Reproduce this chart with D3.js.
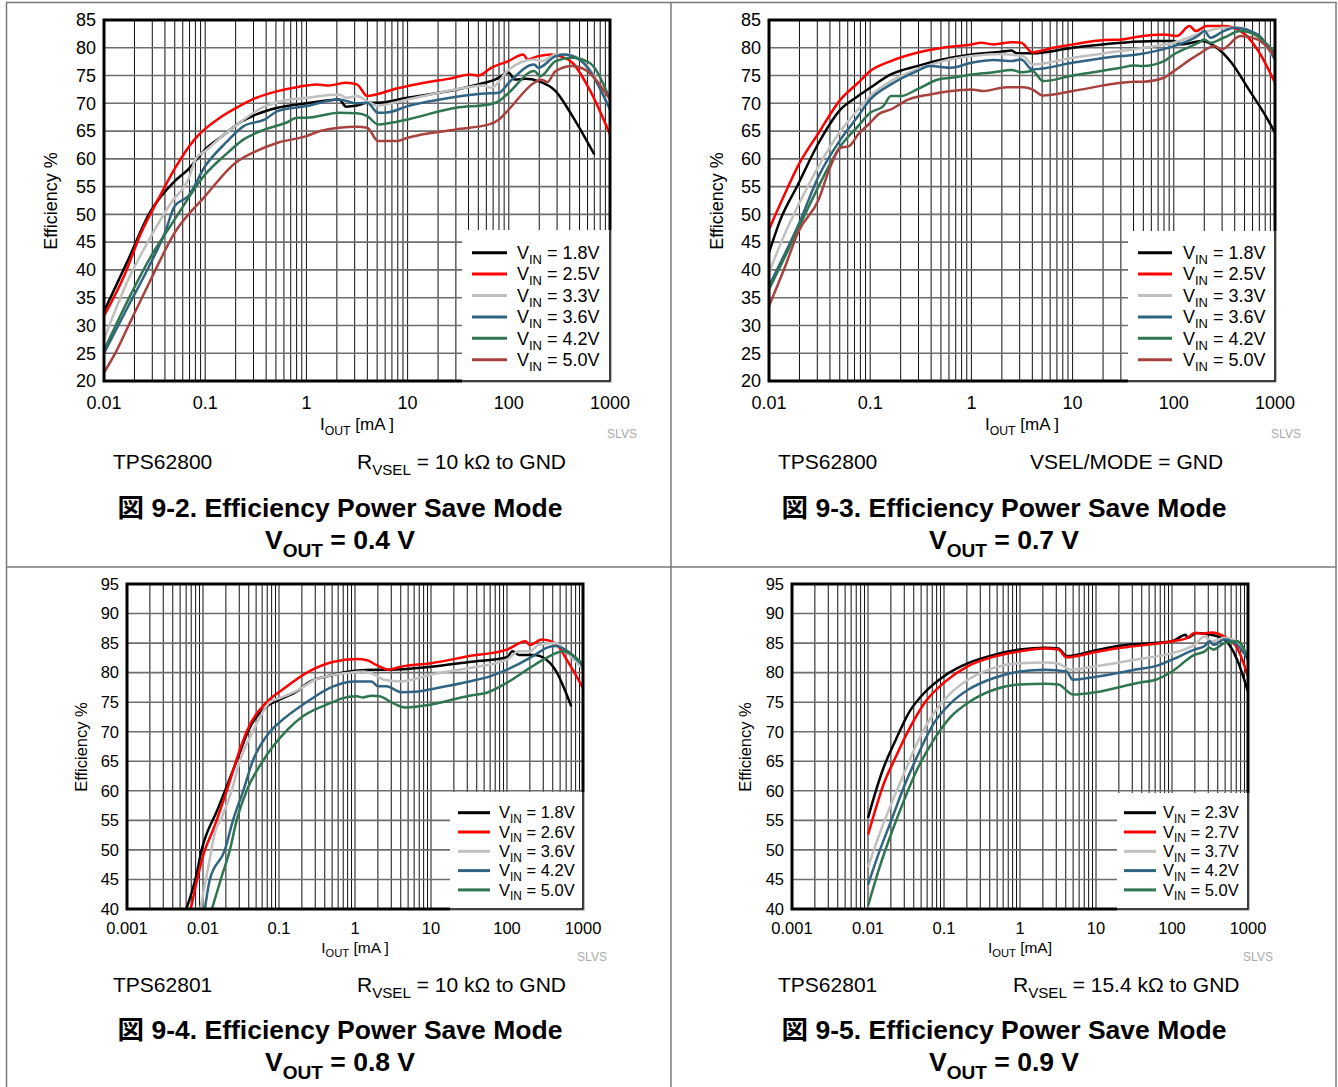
<!DOCTYPE html>
<html><head><meta charset="utf-8">
<script src="https://cdn.jsdelivr.net/npm/d3@7"></script>
<style>
body{margin:0;background:#fff}
svg{display:block}
text{font-family:"Liberation Sans",Arial,"Noto Sans CJK JP",sans-serif;fill:#000}
</style>
</head><body>
<svg id="c" width="1338" height="1087"></svg>
<script>
// ---------------- DATA ----------------
const seriesColors6 = ["#000000","#ff0000","#c0c0c0","#2f6482","#2e7550","#a8423f"];
const seriesColors5 = ["#000000","#ff0000","#c0c0c0","#2f6482","#2e7550"];

// Fig 9-2 (VOUT 0.4 V)
const fig2Labels = ["1.8V","2.5V","3.3V","3.6V","4.2V","5.0V"];
const fig2_v18 = [[0.01,32.5],[0.0174,41.9],[0.0283,50.3],[0.05,56.0],[0.068,58.1],[0.1,61.7],[0.148,64.1],[0.218,66.5],[0.32,68.0],[0.52,69.2],[1,70.0],[2.1,70.7],[2.47,69.4],[3.15,69.6],[4,70.1],[5.1,70.1],[10,71.0],[30.7,72.5],[55,73.6],[74,74.3],[100,75.5],[114,74.3],[146,74.4],[196,74.0],[290,72.2],[425,67.7],[700,60.8]];
const fig2_v25 = [[0.01,31.7],[0.0158,38.9],[0.0233,46.7],[0.0343,52.7],[0.0507,58.4],[0.0785,63.5],[0.148,67.7],[0.218,69.5],[0.321,71.0],[0.521,72.2],[0.847,73.0],[1.25,73.4],[1.67,73.2],[2.47,73.7],[3.15,73.4],[4.01,71.3],[4.87,71.6],[7.19,72.5],[10.6,73.2],[15.6,73.8],[25.4,74.4],[41.3,75.2],[50.1,75.0],[67.1,76.4],[99,77.6],[139,78.8],[153,77.9],[196,78.5],[262,78.8],[318,78.5],[425,77.3],[627,72.5],[1000,64.4]];
const fig2_v33 = [[0.01,27.5],[0.0174,38.3],[0.028,45.5],[0.046,52.1],[0.068,56.3],[0.082,60.2],[0.1,61.4],[0.148,64.1],[0.218,66.5],[0.39,69.5],[0.57,70.4],[1,71.0],[2.1,71.6],[2.47,71.0],[3.15,71.3],[4,70.4],[5.1,69.6],[10,70.7],[30,72.5],[55,73.2],[67,72.8],[100,76.1],[178,77.9],[214,77.6],[290,78.8],[380,78.8],[560,77.3],[1000,68.9]];
const fig2_v36 = [[0.01,25],[0.0174,33.5],[0.028,40.7],[0.04,46.7],[0.05,51.5],[0.068,53.3],[0.1,58.7],[0.16,62.9],[0.24,65.9],[0.39,67.1],[0.52,68.6],[1,69.5],[2.1,70.7],[3.15,70.0],[4,70.1],[5.1,68.3],[6.5,68.4],[10,69.5],[21,70.7],[41,71.5],[64,71.8],[80,71.9],[100,73.7],[178,77.0],[196,76.4],[290,78.5],[350,78.8],[520,77.6],[1000,68.9]];
const fig2_v42 = [[0.01,25.5],[0.0174,34.7],[0.028,41.9],[0.05,49.1],[0.1,57.2],[0.16,60.8],[0.24,63.5],[0.39,65.3],[0.63,66.5],[0.81,67.4],[1,67.4],[2.1,68.3],[3.15,68.2],[4,67.7],[5.1,66.2],[6.5,66.4],[10,67.1],[30,69.2],[64,69.8],[80,70.4],[100,71.9],[178,75.8],[205,74.9],[290,77.6],[425,78.2],[627,77.3],[1000,70.7]];
const fig2_v50 = [[0.01,21.5],[0.013,25.1],[0.0174,29.9],[0.028,37.7],[0.05,46.7],[0.1,53.3],[0.2,59.3],[0.32,61.4],[0.52,62.9],[1,64.1],[1.37,65.0],[2.1,65.6],[3.15,65.8],[4,65.6],[5.1,63.2],[7.9,63.2],[10,63.8],[30,65.3],[64,66.2],[80,67.1],[100,68.9],[178,73.7],[210,74.3],[240,73.8],[290,75.8],[425,76.7],[560,76.1],[1000,70.7]];

// Fig 9-3 (VOUT 0.7 V)
const fig3Labels = ["1.8V","2.5V","3.3V","3.6V","4.2V","5.0V"];
const fig3_v18 = [[0.01,43.1],[0.013,49.1],[0.019,55.1],[0.031,62.9],[0.051,68.9],[0.076,71.3],[0.1,72.8],[0.16,75.2],[0.29,76.7],[0.52,77.9],[1,78.8],[1.97,79.3],[2.5,79.5],[2.8,79.0],[4,79.0],[10,80.0],[30.3,80.9],[66,81.2],[100,81.2],[118,80.6],[190,81.2],[253,80.3],[372,77.3],[550,72.5],[810,67.7],[1000,64.7]];
const fig3_v25 = [[0.01,47.3],[0.0145,53.9],[0.0193,58.7],[0.031,64.7],[0.051,70.7],[0.076,73.7],[0.1,75.8],[0.16,77.6],[0.29,79.1],[0.52,80.0],[1,80.6],[1.25,80.9],[1.67,80.6],[2.5,81.0],[3.1,80.9],[4,79.2],[6.4,80.0],[10,80.6],[20.6,81.4],[30.3,81.5],[44,82.0],[80,82.4],[107,82.1],[143,83.9],[165,83.0],[210,83.9],[310,83.9],[457,83.0],[670,79.7],[1000,73.7]];
const fig3_v33 = [[0.01,39.5],[0.0145,46.7],[0.0193,51.5],[0.031,58.7],[0.051,65.0],[0.076,68.9],[0.1,71.3],[0.16,74.0],[0.29,76.1],[0.52,77.6],[1,78.5],[1.97,78.9],[3.3,78.4],[4,77.0],[10,78.2],[30,79.4],[66,80.3],[100,80.9],[190,82.7],[310,83.6],[457,83.6],[670,82.1],[1000,77.9]];
const fig3_v36 = [[0.01,37.1],[0.0145,43.1],[0.0193,47.9],[0.031,56.9],[0.051,63.5],[0.076,67.7],[0.1,70.7],[0.16,73.4],[0.29,75.8],[0.39,76.7],[0.63,76.4],[1,77.3],[1.67,77.8],[2.5,77.6],[3.1,77.9],[4,76.1],[10,77.3],[30,78.5],[40,78.7],[66,79.4],[100,80.3],[175,82.2],[200,83.0],[230,81.8],[310,83.0],[400,83.6],[670,82.4],[1000,77.9]];
const fig3_v42 = [[0.01,36.5],[0.0145,42.5],[0.0193,47.3],[0.031,55.1],[0.051,62.3],[0.076,65.9],[0.1,68.3],[0.135,69.5],[0.16,71.3],[0.2,71.3],[0.29,72.5],[0.47,74.3],[0.63,74.6],[1,75.2],[1.67,75.6],[2.5,76.0],[3.1,75.6],[4,75.8],[5.1,74.0],[10,75.0],[30,76.4],[40,76.8],[49,76.7],[80,77.6],[100,78.8],[175,80.9],[200,81.5],[230,80.9],[310,81.8],[457,83.0],[670,82.1],[1000,79.1]];
const fig3_v50 = [[0.01,33.5],[0.0145,40.7],[0.0193,46.7],[0.031,52.7],[0.04,58.4],[0.051,62.0],[0.062,62.3],[0.076,64.4],[0.1,66.5],[0.12,68.0],[0.16,68.9],[0.24,70.7],[0.39,71.6],[0.63,72.2],[1,72.5],[1.31,72.2],[2.23,72.9],[3.3,72.9],[4,72.5],[5.1,71.4],[10,72.2],[30,73.7],[40,73.9],[49,73.9],[80,74.6],[100,75.8],[175,78.8],[253,80.3],[295,79.7],[457,82.1],[670,81.5],[1000,78.5]];

// Fig 9-4 (VOUT 0.8 V)
const fig4Labels = ["1.8V","2.6V","3.6V","4.2V","5.0V"];
const fig4_v18 = [[0.00604,40],[0.0081,45.5],[0.0096,50],[0.0155,56.8],[0.0195,60],[0.0316,67.0],[0.0389,70],[0.073,74.5],[0.108,75.6],[0.18,77.0],[0.235,78.2],[0.51,79.6],[1,80.3],[1.9,80.5],[2.76,80.5],[10,81.0],[32,81.8],[100,82.6],[118,83.6],[143,83.0],[224,83.0],[330,82.2],[430,80.5],[700,74.3]];
const fig4_v26 = [[0.0069,40],[0.0092,47.2],[0.0106,50],[0.0136,53.4],[0.0205,60],[0.0316,67.5],[0.0375,70],[0.069,75],[0.108,77.0],[0.256,80.3],[0.51,81.8],[1.05,82.3],[1.45,82.1],[1.9,81.3],[2.76,80.5],[4,81.0],[10,81.6],[32,82.8],[100,83.9],[175,85.3],[200,84.7],[290,85.6],[430,85.0],[630,81.9],[1000,77.4]];
const fig4_v36 = [[0.0092,40],[0.012,47.8],[0.0144,53],[0.0176,55.5],[0.0238,60],[0.0305,65],[0.045,70],[0.076,75],[0.108,75.8],[0.18,77.1],[0.3,78.8],[0.86,80],[1.3,80.2],[1.65,79.9],[2.4,78.8],[4,78.5],[10,79.7],[32,80.8],[100,82.2],[143,83.6],[200,83.6],[260,84.7],[430,85.0],[630,83.3],[1000,80.5]];
const fig4_v42 = [[0.0106,40],[0.0123,45],[0.0194,50],[0.0248,55],[0.0338,60],[0.045,65],[0.076,70],[0.1,71.5],[0.23,75],[0.5,77.6],[1,78.5],[1.65,78.5],[2.0,77.7],[2.6,77.7],[4,76.7],[6.8,76.8],[10,77.2],[32,78.5],[61,79.4],[100,80.5],[200,82.5],[276,83.6],[330,84.2],[430,84.5],[630,83.6],[1000,81.1]];
const fig4_v50 = [[0.0131,40],[0.0176,45.5],[0.0226,50],[0.0277,55],[0.0375,60],[0.061,65],[0.083,67.5],[0.126,70.2],[0.206,72.6],[0.51,75],[0.66,75.6],[1.05,76],[1.27,75.8],[1.65,76.1],[2.1,76.0],[3.1,74.9],[4.6,74.1],[10,74.6],[32,76.1],[54,76.6],[100,78.3],[200,80.8],[330,82.5],[550,83.6],[720,83.0],[1000,81.4]];

// Fig 9-5 (VOUT 0.9 V)
const fig5Labels = ["2.3V","2.7V","3.7V","4.2V","5.0V"];
const fig5_v23 = [[0.01,55.4],[0.0121,59.1],[0.0157,63.6],[0.0233,68.7],[0.0344,73.2],[0.0572,76.8],[0.1,79.4],[0.207,81.6],[0.453,83.0],[1,83.9],[2.15,84.2],[3.2,84.1],[4.1,82.8],[10,83.8],[21.6,84.6],[100,85.3],[151,86.4],[160,85.9],[210,86.7],[330,86.4],[490,85.6],[720,82.2],[1000,76.8]];
const fig5_v27 = [[0.01,52.6],[0.0121,56.2],[0.0157,60.8],[0.0233,65.8],[0.0344,70.3],[0.0572,75.1],[0.1,78.3],[0.207,81.1],[0.453,82.7],[1,83.6],[2.15,84.1],[3.2,83.9],[4.1,82.6],[10,83.5],[21.6,84.2],[100,85.3],[160,85.9],[197,86.7],[254,86.6],[330,86.8],[490,86.1],[720,84.2],[1000,79.4]];
const fig5_v37 = [[0.01,47.1],[0.0139,52.4],[0.0204,57.9],[0.03,63.0],[0.0443,68.1],[0.074,73.2],[0.124,76.6],[0.207,78.8],[0.453,80.8],[1,81.6],[2.15,81.7],[3.2,81.5],[4.7,80.5],[10,81.1],[36.6,82.3],[100,83.3],[197,84.7],[270,86.1],[330,85.3],[490,85.9],[720,85.3],[1000,82.2]];
const fig5_v42 = [[0.01,44.1],[0.0139,49.5],[0.0204,55.1],[0.03,60.8],[0.0443,65.8],[0.074,71.5],[0.124,74.9],[0.207,77.1],[0.453,79.1],[1,80.2],[2.15,80.5],[4.1,80.2],[4.94,78.8],[10,79.3],[36.6,80.6],[61,81.1],[100,82.2],[197,83.9],[270,84.5],[310,85.3],[350,84.7],[490,85.6],[720,84.7],[1000,82.2]];
const fig5_v50 = [[0.01,40.5],[0.0139,46.7],[0.0204,52.9],[0.03,58.5],[0.0443,63.6],[0.074,68.7],[0.124,72.6],[0.207,74.9],[0.453,77.1],[1,78.0],[2.15,78.1],[3.2,78.0],[4.94,76.3],[10,76.7],[36.6,78.3],[61,78.8],[100,80.2],[197,83.0],[270,83.6],[310,84.2],[350,83.9],[490,85.0],[720,85.3],[1000,82.5]];

// tick labels
const xTicksTop = [0.01,0.1,1,10,100,1000];
const xTickLabelsTop = ["0.01","0.1","1","10","100","1000"];
const xTicksBot = [0.001,0.01,0.1,1,10,100,1000];
const xTickLabelsBot = ["0.001","0.01","0.1","1","10","100","1000"];
const yTicksTop = [20,25,30,35,40,45,50,55,60,65,70,75,80,85];
const yTicksBot = [40,45,50,55,60,65,70,75,80,85,90,95];

// captions
const captions = [
  {dev:"TPS62800", cond:[["R"],["VSEL",1],[" = 10 kΩ to GND"]], fig:"図 9-2. Efficiency Power Save Mode", vout:"0.4 V"},
  {dev:"TPS62800", cond:[["VSEL/MODE = GND"]], fig:"図 9-3. Efficiency Power Save Mode", vout:"0.7 V"},
  {dev:"TPS62801", cond:[["R"],["VSEL",1],[" = 10 kΩ to GND"]], fig:"図 9-4. Efficiency Power Save Mode", vout:"0.8 V"},
  {dev:"TPS62801", cond:[["R"],["VSEL",1],[" = 15.4 kΩ to GND"]], fig:"図 9-5. Efficiency Power Save Mode", vout:"0.9 V"}
];

// ---------------- LAYOUT ----------------
const panels = [
  {x0:104,x1:610,y0:20,y1:381,xd:[0.01,1000],yd:[20,85],xt:xTicksTop,xl:xTickLabelsTop,yt:yTicksTop,
   series:[fig2_v18,fig2_v25,fig2_v33,fig2_v36,fig2_v42,fig2_v50],labels:fig2Labels,colors:seriesColors6,
   lg:{x:462,y:230,r0:252.7,rh:21.4,l0:472,l1:507,tx:517,fs:18},fs:18,xlY:403,xtitleX:357,xtitleY:425,xtitle:"[mA ]",
   ytx:51,yty:201,slvs:[622,434],cap:{dx:113,cx:357,cy:462,tx:340,t1:508,t2:540},c:captions[0]},
  {x0:769,x1:1275,y0:20,y1:381,xd:[0.01,1000],yd:[20,85],xt:xTicksTop,xl:xTickLabelsTop,yt:yTicksTop,
   series:[fig3_v18,fig3_v25,fig3_v33,fig3_v36,fig3_v42,fig3_v50],labels:fig3Labels,colors:seriesColors6,
   lg:{x:1128,y:231,r0:252.7,rh:21.4,l0:1138,l1:1172,tx:1183,fs:18},fs:18,xlY:403,xtitleX:1022,xtitleY:425,xtitle:"[mA ]",
   ytx:717,yty:201,slvs:[1286,434],cap:{dx:778,cx:1030,cy:462,tx:1004,t1:508,t2:540},c:captions[1]},
  {x0:127,x1:583,y0:584,y1:909,xd:[0.001,1000],yd:[40,95],xt:xTicksBot,xl:xTickLabelsBot,yt:yTicksBot,
   series:[fig4_v18,fig4_v26,fig4_v36,fig4_v42,fig4_v50],labels:fig4Labels,colors:seriesColors5,
   lg:{x:450,y:792,r0:812.7,rh:19.3,l0:458,l1:490,tx:499,fs:16.5},fs:16.5,xlY:928,xtitleX:355,xtitleY:948,xtitle:"[mA ]",
   ytx:81,yty:747,slvs:[592,957],cap:{dx:113,cx:357,cy:985,tx:340,t1:1030,t2:1062},c:captions[2]},
  {x0:792,x1:1248,y0:584,y1:909,xd:[0.001,1000],yd:[40,95],xt:xTicksBot,xl:xTickLabelsBot,yt:yTicksBot,
   series:[fig5_v23,fig5_v27,fig5_v37,fig5_v42,fig5_v50],labels:fig5Labels,colors:seriesColors5,
   lg:{x:1117,y:793,r0:812.7,rh:19.3,l0:1124,l1:1156,tx:1163,fs:16.5},fs:16.5,xlY:928,xtitleX:1020,xtitleY:948,xtitle:"[mA]",
   ytx:745,yty:747,slvs:[1258,957],cap:{dx:778,cx:1013,cy:985,tx:1004,t1:1030,t2:1062},c:captions[3]}
];

const svg = d3.select("#c");
svg.append("rect").attr("width",1338).attr("height",1087).attr("fill","#fff");

// outer frame & dividers
const fr = svg.append("g").attr("stroke","#7a7a7a").attr("stroke-width",1.5).attr("fill","none");
fr.append("line").attr("x1",6.5).attr("x2",6.5).attr("y1",2).attr("y2",1087);
fr.append("line").attr("x1",1336).attr("x2",1336).attr("y1",2).attr("y2",1087);
fr.append("line").attr("x1",6).attr("x2",1336.5).attr("y1",2.5).attr("y2",2.5);
fr.append("line").attr("x1",671).attr("x2",671).attr("y1",2).attr("y2",1087);
fr.append("line").attr("x1",6).attr("x2",1336.5).attr("y1",567).attr("y2",567);

function subText(g, x, y, parts, fs, anchor, weight){
  const t = g.append("text").attr("x",x).attr("y",y).attr("font-size",fs)
    .attr("text-anchor",anchor||"start").attr("font-weight",weight||"normal");
  let shifted = false;
  parts.forEach(p=>{
    const ts = t.append("tspan").text(p[0]);
    if(p[1]){ ts.attr("font-size",fs*0.72).attr("dy",fs*0.28); shifted = true; }
    else if(shifted){ ts.attr("dy",-fs*0.28); shifted=false; }
  });
  return t;
}

panels.forEach((P,pi)=>{
  const g = svg.append("g");
  const x = d3.scaleLog().domain(P.xd).range([P.x0,P.x1]);
  const y = d3.scaleLinear().domain(P.yd).range([P.y1,P.y0]);

  // vertical grid (1..9 per decade)
  const vt = [];
  for(let e=Math.log10(P.xd[0]); e<Math.log10(P.xd[1]); e++){
    for(let k=1;k<=9;k++) vt.push(k*Math.pow(10,e));
  }
  g.append("g").selectAll("line").data(vt).join("line")
    .attr("x1",d=>x(d)).attr("x2",d=>x(d)).attr("y1",P.y0).attr("y2",P.y1)
    .attr("stroke","#111").attr("stroke-width",1);
  // horizontal grid
  g.append("g").selectAll("line").data(P.yt).join("line")
    .attr("x1",P.x0).attr("x2",P.x1).attr("y1",d=>y(d)).attr("y2",d=>y(d))
    .attr("stroke","#6e6e6e").attr("stroke-width",1.6);

  // clip
  const cid = "clip"+pi;
  svg.append("clipPath").attr("id",cid).append("rect")
    .attr("x",P.x0).attr("y",P.y0).attr("width",P.x1-P.x0).attr("height",P.y1-P.y0);

  const line = d3.line().x(d=>x(d[0])).y(d=>y(d[1])).curve(d3.curveMonotoneX);
  const lg = g.append("g").attr("clip-path",`url(#${cid})`);
  P.series.forEach((s,i)=>{
    lg.append("path").attr("d",line(s)).attr("fill","none")
      .attr("stroke",P.colors[i]).attr("stroke-width",2.5).attr("stroke-linejoin","round");
  });

  // frame
  g.append("rect").attr("x",P.x0).attr("y",P.y0).attr("width",P.x1-P.x0).attr("height",P.y1-P.y0)
    .attr("fill","none").attr("stroke","#000").attr("stroke-width",3);

  // legend
  const L = P.lg;
  g.append("rect").attr("x",L.x).attr("y",L.y).attr("width",P.x1+1.5-L.x).attr("height",P.y1+1.5-L.y).attr("fill","#fff");
  g.append("path").attr("d",`M${P.x1},${L.y}V${P.y1}H${L.x}`).attr("fill","none").attr("stroke","#000").attr("stroke-width",1.5);
  P.labels.forEach((lab,i)=>{
    const yy = L.r0 + i*L.rh;
    g.append("line").attr("x1",L.l0).attr("x2",L.l1).attr("y1",yy).attr("y2",yy)
      .attr("stroke",P.colors[i]).attr("stroke-width",3);
    subText(g, L.tx, yy + L.fs*0.35, [["V"],["IN",1],[" = "+lab]], L.fs);
  });

  // tick labels
  g.append("g").selectAll("text").data(P.yt).join("text")
    .attr("x",P.x0-8).attr("y",d=>y(d)).attr("dy","0.35em").attr("text-anchor","end")
    .attr("font-size",P.fs).text(d=>d);
  g.append("g").selectAll("text").data(P.xt).join("text")
    .attr("x",d=>x(d)).attr("y",P.xlY).attr("dy","0.35em").attr("text-anchor","middle")
    .attr("font-size",P.fs).text((d,i)=>P.xl[i]);

  // axis titles
  subText(g, P.xtitleX, P.xtitleY + P.fs*0.3, [["I"],["OUT",1],[" "+P.xtitle]], P.fs-1, "middle");
  g.append("text").attr("transform",`translate(${P.ytx},${P.yty}) rotate(-90)`).attr("text-anchor","middle")
    .attr("dy","0.35em").attr("font-size",P.fs).text("Efficiency %");
  g.append("text").attr("x",P.slvs[0]).attr("y",P.slvs[1]).attr("dy","0.35em").attr("text-anchor","middle")
    .attr("font-size",12).style("fill","#aaaaaa").text("SLVS");

  // captions
  const C = P.cap;
  g.append("text").attr("x",C.dx).attr("y",C.cy).attr("dy","0.35em").attr("font-size",21).text(P.c.dev);
  subText(g, C.cx, C.cy + 21*0.35, P.c.cond, 21);
  g.append("text").attr("x",C.tx).attr("y",C.t1).attr("dy","0.35em").attr("text-anchor","middle")
    .attr("font-size",26.5).attr("font-weight","bold").text(P.c.fig);
  subText(g, C.tx, C.t2 + 26.5*0.35, [["V"],["OUT",1],[" = "+P.c.vout]], 26.5, "middle", "bold");
});
</script>
</body></html>
